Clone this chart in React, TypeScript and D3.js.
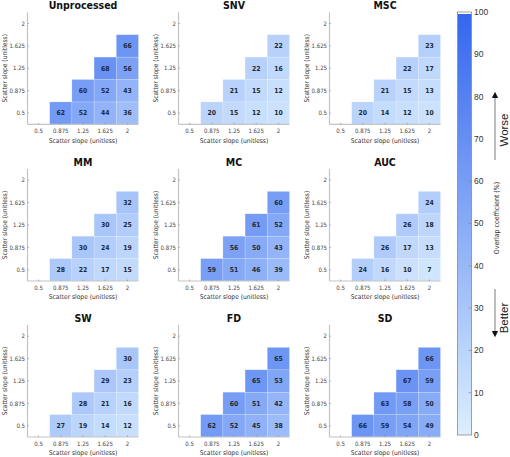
import React from "react";
import * as d3 from "d3";

const slopes = ["0.5", "0.875", "1.25", "1.625", "2"];
const titles = ["Unprocessed", "SNV", "MSC", "MM", "MC", "AUC", "SW", "FD", "SD"];
// each array: rows by y slope (0.5, 0.875, 1.25, 1.625), values for x columns after the diagonal
const unprocessed = [[62, 52, 44, 36], [60, 52, 43], [68, 56], [66]];
const snv = [[20, 15, 12, 10], [21, 15, 12], [22, 16], [22]];
const msc = [[20, 14, 12, 10], [21, 15, 13], [22, 17], [23]];
const mm = [[28, 22, 17, 15], [30, 24, 19], [30, 25], [32]];
const mc = [[59, 51, 46, 39], [56, 50, 43], [61, 52], [60]];
const auc = [[24, 16, 10, 7], [26, 17, 13], [26, 18], [24]];
const sw = [[27, 19, 14, 12], [28, 21, 16], [29, 23], [30]];
const fd = [[62, 52, 45, 38], [60, 51, 42], [65, 53], [65]];
const sd = [[66, 59, 54, 49], [63, 58, 50], [67, 59], [66]];
const panels = [unprocessed, snv, msc, mm, mc, auc, sw, fd, sd];
const cbTicks = [0, 10, 20, 30, 40, 50, 60, 70, 80, 90, 100];

const colLefts = [27.5, 178.5, 329.5];
const rowTops = [12.3, 169, 325];
const PW = 111;
const PH = 112;

const color = d3
  .scaleLinear<string>()
  .domain([0, 100])
  .range(["#dcefff", "#3366ee"])
  .interpolate(d3.interpolateRgb);

const condensed = "'DejaVu Sans Condensed', 'DejaVu Sans', sans-serif";
const sans = "'Liberation Sans', Arial, sans-serif";

function Panel({ idx }: { idx: number }) {
  const c = idx % 3;
  const r = Math.floor(idx / 3);
  const left = colLefts[c];
  const top = rowTops[r];
  const x = d3.scaleBand().domain(slopes).range([left, left + PW]);
  const y = d3.scaleBand().domain(slopes).range([top + PH, top]);
  const data = panels[idx];
  const cells: { xi: number; yi: number; v: number }[] = [];
  data.forEach((row, yi) => {
    row.forEach((v, k) => {
      cells.push({ xi: yi + 1 + k, yi, v });
    });
  });
  const cx = left + PW / 2;
  return (
    <g>
      <text
        x={cx}
        y={top - 3.5}
        textAnchor="middle"
        fontFamily={condensed}
        fontWeight="bold"
        fontSize={10.5}
        fill="#111"
      >
        {titles[idx]}
      </text>
      {cells.map((d, i) => (
        <g key={i}>
          <rect
            x={x(slopes[d.xi])!}
            y={y(slopes[d.yi])!}
            width={x.bandwidth()}
            height={y.bandwidth()}
            fill={color(d.v)}
            stroke="#ffffff"
            strokeOpacity={0.35}
            strokeWidth={0.5}
          />
          <text
            x={x(slopes[d.xi])! + x.bandwidth() / 2}
            y={y(slopes[d.yi])! + y.bandwidth() / 2}
            dy="0.35em"
            textAnchor="middle"
            fontFamily={condensed}
            fontWeight="bold"
            fontSize={6.8}
            fill="#1d2a3a"
          >
            {d.v}
          </text>
        </g>
      ))}
      <line x1={left} x2={left} y1={top} y2={top + PH} stroke="#c4c4c4" strokeWidth={1.2} />
      <line x1={left} x2={left + PW} y1={top + PH} y2={top + PH} stroke="#c4c4c4" strokeWidth={1.2} />
      {slopes.map((s) => (
        <g key={"t" + s}>
          <line
            x1={left}
            x2={left + 1.5}
            y1={y(s)! + y.bandwidth() / 2}
            y2={y(s)! + y.bandwidth() / 2}
            stroke="#888"
            strokeWidth={0.6}
          />
          <text
            x={left - 2.5}
            y={y(s)! + y.bandwidth() / 2}
            dy="0.35em"
            textAnchor="end"
            fontFamily={condensed}
            fontSize={6}
            fill="#444"
          >
            {s}
          </text>
          <line
            x1={x(s)! + x.bandwidth() / 2}
            x2={x(s)! + x.bandwidth() / 2}
            y1={top + PH}
            y2={top + PH - 1.5}
            stroke="#888"
            strokeWidth={0.6}
          />
          <text
            x={x(s)! + x.bandwidth() / 2}
            y={top + PH + 7}
            dy="0.35em"
            textAnchor="middle"
            fontFamily={condensed}
            fontSize={6}
            fill="#444"
          >
            {s}
          </text>
        </g>
      ))}
      <text
        x={cx}
        y={top + PH + 16}
        dy="0.35em"
        textAnchor="middle"
        fontFamily={condensed}
        fontSize={6.6}
        fill="#333"
      >
        Scatter slope (unitless)
      </text>
      <text
        transform={`translate(${left - 23},${top + PH / 2}) rotate(-90)`}
        dy="0.35em"
        textAnchor="middle"
        fontFamily={condensed}
        fontSize={6.6}
        fill="#333"
      >
        Scatter slope (unitless)
      </text>
    </g>
  );
}

export default function App() {
  const cbX = 457.5;
  const cbW = 14;
  const cbTop = 12;
  const cbBot = 435;
  const cy = d3.scaleLinear().domain([0, 100]).range([cbBot, cbTop]);
  const stops = d3.range(0, 101, 10);
  return (
    <svg
      width={510}
      height={457}
      style={{ position: "absolute", left: 0, top: 0, background: "#fff" }}
    >
      <defs>
        <linearGradient id="cbgrad" x1="0" y1="1" x2="0" y2="0">
          {stops.map((s) => (
            <stop key={s} offset={`${s}%`} stopColor={color(s)} />
          ))}
        </linearGradient>
        <marker id="ah" viewBox="0 0 10 10" refX="5" refY="5" markerWidth="5" markerHeight="6" orient="auto">
          <path d="M0,0 L10,5 L0,10 z" fill="#111" />
        </marker>
      </defs>
      {titles.map((_, i) => (
        <Panel key={i} idx={i} />
      ))}
      <rect x={cbX} y={cy(100)} width={cbW} height={cy(0) - cy(100)} fill="url(#cbgrad)" />
      <rect x={cbX} y={cy(100)} width={cbW} height={2} fill="#ffffff" />
      <rect
        x={cbX}
        y={cy(100)}
        width={cbW}
        height={cy(0) - cy(100)}
        fill="none"
        stroke="#8a8a8a"
        strokeWidth={0.8}
      />
      {cbTicks.map((t) => (
        <g key={t}>
          {t !== 0 && t !== 100 && (
            <line x1={cbX + cbW - 3} x2={cbX + cbW} y1={cy(t)} y2={cy(t)} stroke="#8a8a8a" strokeWidth={0.7} />
          )}
          <text x={cbX + cbW + 2.5} y={cy(t)} dy="0.35em" fontFamily={sans} fontSize={8.5} fill="#333">
            {t}
          </text>
        </g>
      ))}
      <text
        transform={`translate(${496.5},${218}) rotate(-90)`}
        dy="0.35em"
        textAnchor="middle"
        fontFamily={condensed}
        fontSize={7}
        fill="#333"
      >
        Overlap coefficient (%)
      </text>
      <line x1={495} x2={495} y1={160} y2={95} stroke="#999" strokeWidth={1.3} markerEnd="url(#ah)" />
      <line x1={495} x2={495} y1={289} y2={334} stroke="#999" strokeWidth={1.3} markerEnd="url(#ah)" />
      <text
        transform={`translate(${504},${130}) rotate(-90)`}
        dy="0.35em"
        textAnchor="middle"
        fontFamily={sans}
        fontSize={11.5}
        fill="#222"
      >
        Worse
      </text>
      <text
        transform={`translate(${504},${318}) rotate(-90)`}
        dy="0.35em"
        textAnchor="middle"
        fontFamily={sans}
        fontSize={11.5}
        fill="#222"
      >
        Better
      </text>
    </svg>
  );
}
